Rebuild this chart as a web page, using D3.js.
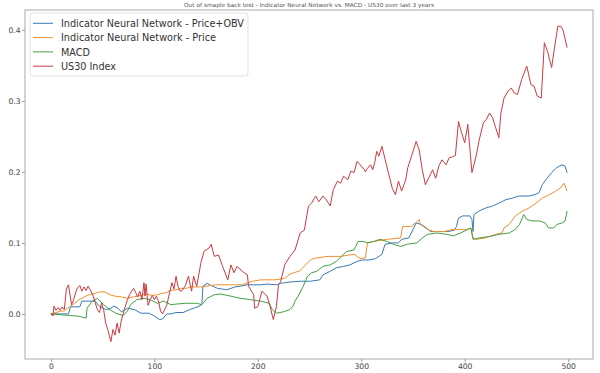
<!DOCTYPE html>
<html>
<head>
<meta charset="utf-8">
<script src="https://cdn.jsdelivr.net/npm/d3@7"></script>
<style>
  body { margin: 0; background: #fff; }
  text { font-family: "DejaVu Sans", sans-serif; }
</style>
</head>
<body>
<div id="chart"></div>
<script>
let width = 600
let height = 373

// x = trading day index
let obvIdx = [0,17,19,28,30,43,46,50,54,58,61,65,68,74,81,87,95,100,105,108,112,116,121,128,134,140,145,146,147,151,155,161,170,178,183,190,196,203,209,218,222,231,241,251,260,263,270,276,283,289,296,301,308,314,320,323,330,336,339,346,350,353,358,363,367,374,384,390,392,394,398,405,407,408,409,414,420,427,433,440,446,452,462,468,472,475,480,484,489,494,497,499]
let obvVal = [0,0,0.01,0.01,0.018,0.018,0.012,0.008,0.006,0.008,0.011,0.008,0.003,0.008,0.006,0.001,0.001,-0.003,-0.008,-0.007,0,0,0.002,0.002,0.006,0.009,0.012,0.015,0.039,0.043,0.04,0.036,0.034,0.038,0.039,0.041,0.041,0.041,0.042,0.041,0.043,0.045,0.046,0.046,0.048,0.055,0.06,0.065,0.067,0.069,0.074,0.076,0.076,0.078,0.084,0.098,0.1,0.1,0.105,0.107,0.119,0.128,0.126,0.121,0.116,0.116,0.116,0.118,0.123,0.135,0.138,0.138,0.133,0.116,0.14,0.145,0.149,0.152,0.156,0.161,0.163,0.166,0.166,0.168,0.171,0.182,0.192,0.199,0.206,0.21,0.208,0.199]

let priceIdx = [0,10,13,16,19,23,27,30,35,40,45,48,52,57,62,68,74,80,87,92,98,103,107,112,115,122,125,131,135,146,159,172,185,195,203,216,226,231,241,248,252,254,267,280,293,299,304,306,312,325,338,340,348,354,356,357,364,370,380,389,402,406,408,411,420,430,436,438,443,449,456,462,469,475,482,488,493,496,499]
let priceVal = [0,0.004,0.004,0.008,0.011,0.015,0.02,0.022,0.026,0.028,0.03,0.031,0.031,0.027,0.025,0.024,0.022,0.024,0.026,0.028,0.026,0.027,0.029,0.03,0.033,0.034,0.036,0.036,0.038,0.038,0.041,0.041,0.041,0.046,0.048,0.048,0.05,0.056,0.061,0.072,0.077,0.078,0.081,0.081,0.084,0.078,0.079,0.1,0.102,0.105,0.107,0.123,0.123,0.13,0.133,0.126,0.119,0.116,0.116,0.119,0.119,0.121,0.107,0.105,0.107,0.112,0.114,0.121,0.126,0.138,0.145,0.149,0.156,0.163,0.168,0.173,0.178,0.184,0.173]

let macdIdx = [0,16,26,34,35,40,45,51,57,64,70,74,77,83,90,96,103,109,116,122,131,141,146,151,158,164,174,183,193,203,211,214,218,225,231,234,236,239,244,248,252,257,263,270,276,283,286,293,297,302,306,312,318,325,331,338,344,354,359,364,373,383,389,396,403,406,408,414,424,433,443,449,453,457,460,465,472,478,481,486,489,494,497,499]
let macdVal = [0,-0.002,-0.003,-0.006,0.008,0.018,0.022,0.013,0.006,0,-0.002,0.004,0.013,0.02,0.022,0.02,0.015,0.018,0.013,0.014,0.015,0.015,0.013,0.022,0.027,0.028,0.025,0.022,0.02,0.018,0.015,0.006,0.001,0.003,0.006,0.011,0.018,0.025,0.039,0.053,0.058,0.06,0.067,0.069,0.074,0.084,0.088,0.09,0.102,0.102,0.1,0.102,0.105,0.102,0.098,0.095,0.098,0.1,0.107,0.112,0.114,0.112,0.11,0.114,0.119,0.121,0.105,0.107,0.109,0.112,0.114,0.119,0.126,0.14,0.133,0.131,0.131,0.128,0.121,0.121,0.126,0.128,0.131,0.145]

let us30Idx = [0,2,3,5,7,9,11,13,15,17,20,22,25,28,30,32,34,36,38,41,43,45,47,49,51,53,55,58,60,62,64,66,68,71,74,76,78,80,82,84,86,88,90,91,92,94,96,98,100,102,104,106,108,110,112,114,117,119,121,123,125,127,130,133,136,138,141,145,148,153,155,158,162,166,171,174,177,180,185,190,191,196,197,200,204,209,212,215,218,220,222,226,231,236,241,245,249,252,256,259,263,266,270,273,277,280,283,287,290,293,296,299,303,304,306,309,311,313,315,317,320,323,326,330,333,336,339,343,345,349,352,353,356,359,362,366,369,372,375,378,382,385,388,391,394,397,400,403,407,411,414,418,421,424,427,430,433,435,438,442,445,448,451,455,460,464,467,470,474,477,480,484,487,490,493,495,499]
let us30Val = [0,-0.003,0.011,0.005,0.009,0.005,0.01,0.006,0.035,0.041,0.013,0.02,0.035,0.04,0.032,0.038,0.033,0.039,0.034,0.025,0.015,0.006,0.002,0.015,0.006,-0.013,-0.022,-0.039,-0.022,-0.03,-0.013,-0.027,-0.01,0.006,0.02,0.027,0.032,0.036,0.03,0.024,0.032,0.02,0.044,0.025,0.042,0.012,0.02,0.026,0.02,0.025,0.018,0.004,0,0.006,0.012,0.025,0.044,0.035,0.053,0.038,0.032,0.033,0.04,0.053,0.032,0.053,0.039,0.072,0.088,0.093,0.098,0.081,0.083,0.067,0.048,0.069,0.058,0.067,0.06,0.055,0.039,0.027,0.008,0.01,0.032,0.025,0.01,-0.008,0.01,0.041,0.045,0.069,0.081,0.09,0.114,0.118,0.152,0.156,0.166,0.158,0.166,0.161,0.152,0.175,0.187,0.184,0.194,0.189,0.201,0.199,0.215,0.21,0.203,0.2,0.205,0.21,0.203,0.213,0.229,0.222,0.236,0.218,0.2,0.177,0.168,0.187,0.173,0.189,0.206,0.224,0.238,0.243,0.231,0.203,0.182,0.194,0.203,0.191,0.208,0.217,0.21,0.22,0.221,0.223,0.271,0.255,0.241,0.267,0.199,0.222,0.245,0.269,0.274,0.283,0.276,0.262,0.248,0.283,0.304,0.314,0.318,0.311,0.309,0.33,0.349,0.323,0.321,0.307,0.304,0.382,0.37,0.347,0.377,0.405,0.405,0.4,0.375]

let seriesNames = ['Indicator Neural Network - Price+OBV', 'Indicator Neural Network - Price', 'MACD', 'US30 Index']
let seriesColors = ['#3a7ab3', '#f0902e', '#44a044', '#cc3a40']
let xTicks = [0, 100, 200, 300, 400, 500]
let yTicks = [0, 0.1, 0.2, 0.3, 0.4]
let title = 'Out of smaple back test - Indicator Neural Network vs. MACD - US30 over last 3 years'

let series = [
  {idx: obvIdx, val: obvVal},
  {idx: priceIdx, val: priceVal},
  {idx: macdIdx, val: macdVal},
  {idx: us30Idx, val: us30Val}
]

let plot = {left: 25, right: 593, top: 10, bottom: 359}

let xScale = d3.scaleLinear()
  .domain([-25, 524])
  .range([plot.left, plot.right])

let yScale = d3.scaleLinear()
  .domain([-0.0635, 0.428])
  .range([plot.bottom, plot.top])

let svg = d3.select('#chart').append('svg')
  .attr('width', width)
  .attr('height', height)

svg.append('rect')
  .attr('width', width).attr('height', height)
  .attr('fill', '#fff')

svg.append('text')
  .attr('x', (plot.left + plot.right) / 2)
  .attr('y', 7)
  .attr('text-anchor', 'middle')
  .attr('font-size', 5.6)
  .attr('fill', '#555')
  .attr('textLength', 250)
  .attr('lengthAdjust', 'spacingAndGlyphs')
  .text(title)

// lines
let line = d3.line()
  .x((d) => xScale(d[0]))
  .y((d) => yScale(d[1]))

series.forEach((s, i) => {
  let pts = s.idx.map((x, j) => [x, s.val[j]])
  svg.append('path')
    .datum(pts)
    .attr('fill', 'none')
    .attr('stroke', seriesColors[i])
    .attr('stroke-width', 1)
    .attr('stroke-linejoin', 'round')
    .attr('d', line)
})

// axes
let xAxis = svg.append('g')
  .attr('transform', 'translate(0,' + plot.bottom + ')')
  .call(d3.axisBottom(xScale).tickValues(xTicks).tickSize(3).tickPadding(1.5).tickFormat(d3.format('d')))

let yAxis = svg.append('g')
  .attr('transform', 'translate(' + plot.left + ',0)')
  .call(d3.axisLeft(yScale).tickValues(yTicks).tickSize(3).tickPadding(1.5).tickFormat(d3.format('.1f')))

;[xAxis, yAxis].forEach((g) => {
  g.select('.domain').remove()
  g.selectAll('line').attr('stroke', '#999')
  g.selectAll('text').attr('font-size', 7.6).attr('fill', '#444').attr('font-family', '"DejaVu Sans", sans-serif')
})

// spines
svg.append('rect')
  .attr('x', plot.left).attr('y', plot.top)
  .attr('width', plot.right - plot.left)
  .attr('height', plot.bottom - plot.top)
  .attr('fill', 'none')
  .attr('stroke', '#aaa')
  .attr('stroke-width', 1)

// legend
let legendWidths = [183, 155, 29, 55]
let legend = svg.append('g')
legend.append('rect')
  .attr('x', 30).attr('y', 13)
  .attr('width', 218).attr('height', 63)
  .attr('rx', 3)
  .attr('fill', '#fff').attr('fill-opacity', 0.8)
  .attr('stroke', '#e0e0e0')

seriesNames.forEach((name, i) => {
  let y = 23.3 + i * 14.3
  legend.append('line')
    .attr('x1', 33).attr('x2', 53)
    .attr('y1', y).attr('y2', y)
    .attr('stroke', seriesColors[i])
    .attr('stroke-width', 1)
  legend.append('text')
    .attr('x', 61).attr('y', y)
    .attr('dy', '0.36em')
    .attr('font-size', 10.8)
    .attr('fill', '#333')
    .attr('textLength', legendWidths[i])
    .attr('lengthAdjust', 'spacingAndGlyphs')
    .text(name)
})
</script>
</body>
</html>
